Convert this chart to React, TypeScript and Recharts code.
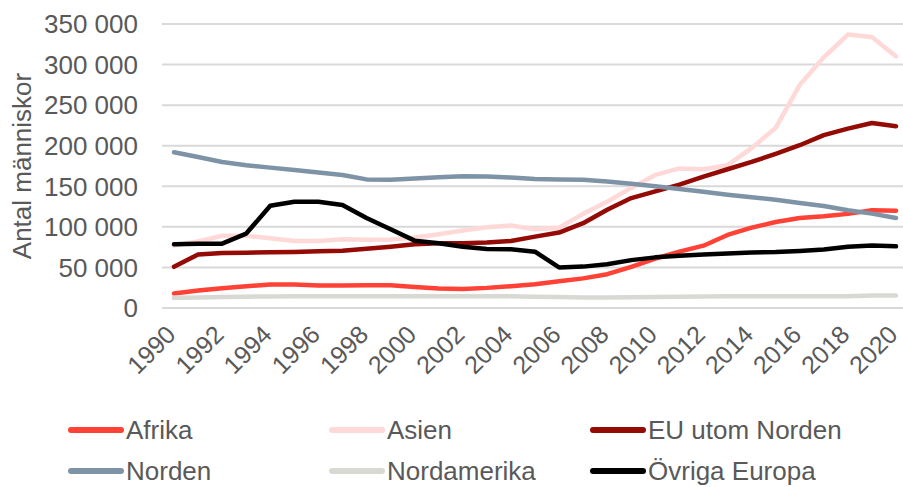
import { LineChart, Line, XAxis, YAxis, CartesianGrid, Legend, Label } from 'recharts';

const years = [
  '1990', '1991', '1992', '1993', '1994', '1995', '1996', '1997', '1998', '1999',
  '2000', '2001', '2002', '2003', '2004', '2005', '2006', '2007', '2008', '2009',
  '2010', '2011', '2012', '2013', '2014', '2015', '2016', '2017', '2018', '2019', '2020',
];

const afrika = [
  18000, 21500, 24400, 26900, 28900, 28900, 27700, 27700, 28000, 28000,
  26000, 24000, 23500, 24800, 26900, 29300, 33000, 36500, 41700, 50800,
  61000, 69400, 76800, 90000, 99000, 106000, 111000, 113000, 116000, 120500, 120000,
];
const asien = [
  77000, 82000, 89000, 89000, 86000, 82600, 82600, 84700, 84000, 84500,
  87000, 91000, 95500, 99500, 101600, 97000, 99000, 116000, 131000, 148000,
  164000, 172000, 171000, 176000, 197000, 222000, 275000, 309000, 337000, 334000, 310000,
];
const euUtomNorden = [
  50800, 66000, 67800, 68200, 68600, 69000, 69800, 70700, 73000, 75600,
  78500, 79700, 79700, 80600, 82600, 88000, 93000, 104500, 121000, 135500,
  143800, 152000, 162000, 171000, 180000, 190000, 200600, 213000, 221000, 228000, 224000,
];
const norden = [
  192000, 186000, 180000, 176000, 173000, 170000, 167000, 164000, 158500, 158000,
  159500, 161000, 162500, 162000, 160700, 159000, 158500, 158000, 156000, 153000,
  150000, 146700, 143400, 139700, 136500, 133500, 129500, 125800, 120400, 116300, 111000,
];
const nordamerika = [
  12500, 13000, 13500, 14000, 14200, 14400, 14500, 14500, 14500, 14500,
  14500, 14500, 14500, 14500, 14500, 14000, 13500, 13000, 13000, 13300,
  13600, 14000, 14300, 14500, 14500, 14500, 14500, 14500, 14500, 15300, 15300,
];
const ovrigaEuropa = [
  78500, 79300, 79300, 91700, 126000, 131000, 131000, 127000, 111000, 97000,
  83000, 79700, 75600, 72700, 72300, 69400, 50000, 51000, 54000, 59000,
  62400, 64500, 66000, 67300, 68500, 69000, 70300, 72000, 75600, 77000, 76000,
];

const yTicks = [0, 50000, 100000, 150000, 200000, 250000, 300000, 350000];

const series = [
  { key: 'afrika', name: 'Afrika', color: '#ff4136', values: afrika },
  { key: 'asien', name: 'Asien', color: '#ffd8d8', values: asien },
  { key: 'eu', name: 'EU utom Norden', color: '#940a05', values: euUtomNorden },
  { key: 'norden', name: 'Norden', color: '#7f93a7', values: norden },
  { key: 'nordamerika', name: 'Nordamerika', color: '#d9d9d4', values: nordamerika },
  { key: 'ovriga', name: 'Övriga Europa', color: '#000000', values: ovrigaEuropa },
];

const data = years.map((year, i) => {
  const row: Record<string, string | number> = { year };
  series.forEach((s) => {
    row[s.key] = s.values[i];
  });
  return row;
});

const FONT = '"Liberation Sans", Arial, sans-serif';
const TEXT = '#595959';

const formatNumber = (v: number): string => String(v).replace(/\B(?=(\d{3})+(?!\d))/g, ' ');

const XTick = ({ x, y, payload }: any) => (
  <g transform={`translate(${x - 3},${y + 20})`}>
    <text transform="rotate(-45)" textAnchor="end" dy="0.35em" fill={TEXT} fontSize={25} fontFamily={FONT}>
      {payload.value}
    </text>
  </g>
);

const LegendBox = () => (
  <div style={{ display: 'grid', gridTemplateColumns: '261px 261px 261px', rowGap: 9, paddingLeft: 68 }}>
    {series.map((s) => (
      <div key={s.key} style={{ display: 'flex', alignItems: 'center', height: 32 }}>
        <svg width={56} height={10}>
          <line x1={3} y1={5} x2={53} y2={5} stroke={s.color} strokeWidth={6} strokeLinecap="round" />
        </svg>
        <span style={{ fontFamily: FONT, fontSize: 26, color: TEXT, marginLeft: 2 }}>{s.name}</span>
      </div>
    ))}
  </div>
);

export default function App() {
  return (
    <div style={{ position: 'absolute', left: 0, top: 0, width: 903, height: 487, background: '#fff' }}>
      <LineChart width={903} height={487} data={data} margin={{ top: 24, right: 0, bottom: 0, left: 0 }}>
        <CartesianGrid vertical={false} stroke="#d9d9d9" strokeWidth={2} />
        <XAxis
          dataKey="year"
          interval={1}
          axisLine={false}
          tickLine={false}
          tickSize={0}
          height={179}
          padding={{ left: 12, right: 7 }}
          tick={<XTick />}
        />
        <YAxis
          domain={[0, 350000]}
          ticks={yTicks}
          width={162}
          axisLine={false}
          tickLine={false}
          tickMargin={18}
          tickFormatter={formatNumber}
          tick={{ fill: TEXT, fontSize: 26, fontFamily: FONT }}
        >
          <Label
            content={() => (
              <text
                transform="translate(22,166) rotate(-90)"
                textAnchor="middle"
                dominantBaseline="central"
                fill={TEXT}
                fontSize={26}
                fontFamily={FONT}
              >
                Antal människor
              </text>
            )}
          />
        </YAxis>
        <Legend
          verticalAlign="middle"
          align="center"
          content={<LegendBox />}
          wrapperStyle={{ left: 0, top: 414, width: 903 }}
        />
        {series.map((s) => (
          <Line
            key={s.key}
            type="linear"
            dataKey={s.key}
            name={s.name}
            stroke={s.color}
            strokeWidth={4.5}
            strokeLinecap="round"
            strokeLinejoin="round"
            dot={false}
            activeDot={false}
            isAnimationActive={false}
          />
        ))}
      </LineChart>
    </div>
  );
}
